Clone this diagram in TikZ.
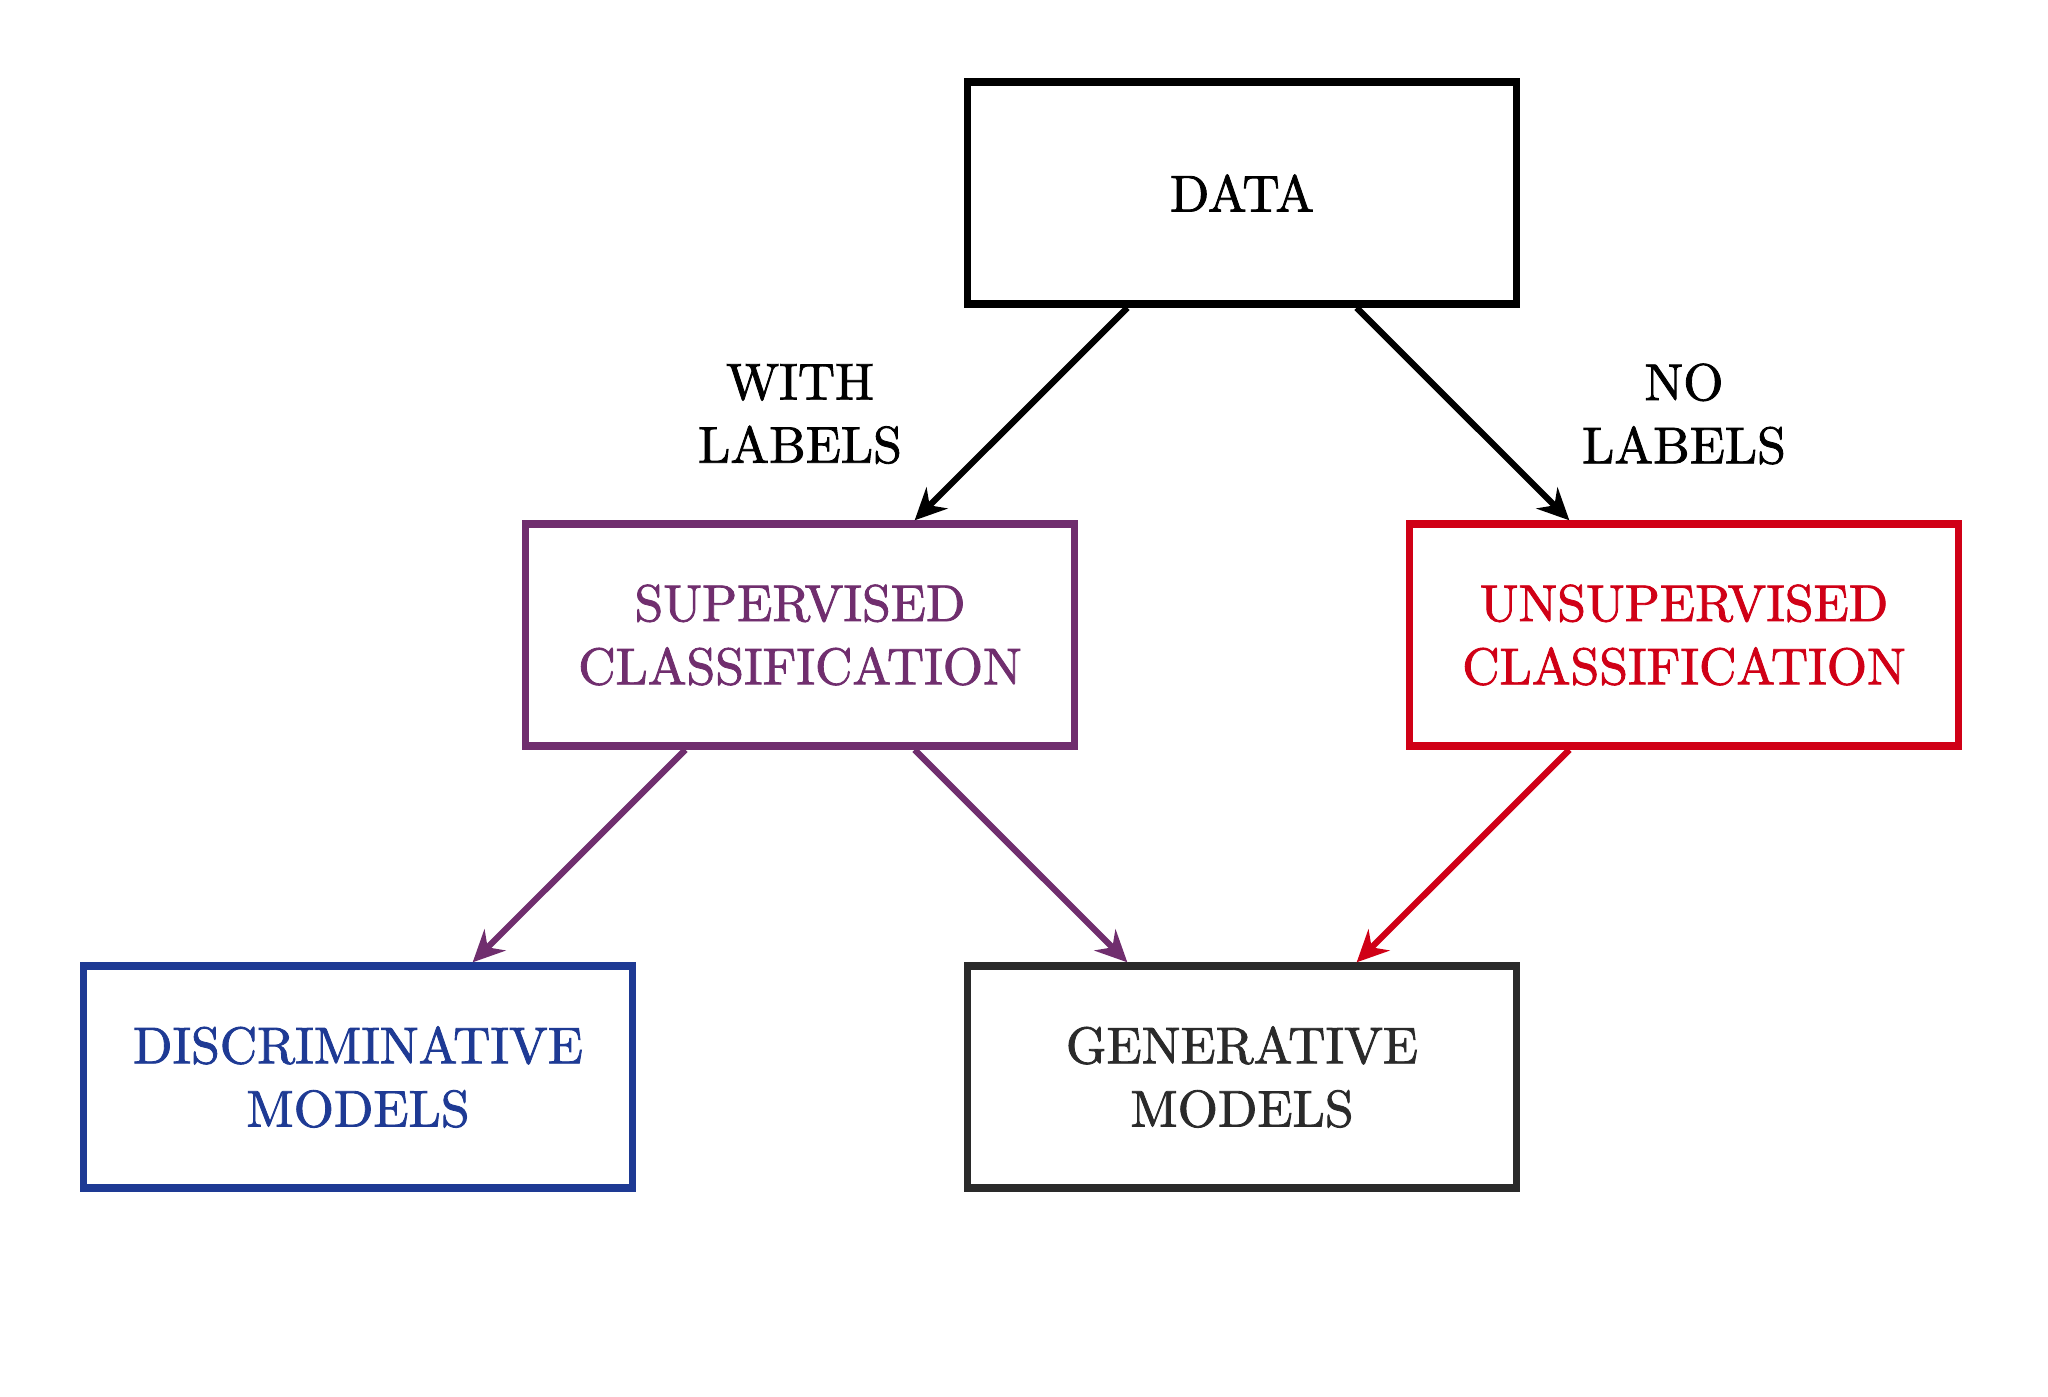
\documentclass[tikz,border=0pt]{standalone}
\usetikzlibrary{arrows.meta}
\font\lmten="[lmroman10-regular]:embolden=1.6" at 14.7pt
\newcommand{\boxfont}{\lmten\baselineskip=18pt\relax}
\definecolor{suppurple}{RGB}{112,46,110}
\definecolor{unsred}{RGB}{208,0,22}
\definecolor{discblue}{RGB}{30,58,148}
\definecolor{gengray}{RGB}{42,42,42}
\tikzset{
  box/.style={draw, line width=2.1pt, minimum width=5.49cm, minimum height=2.22cm,
    align=center, font=\boxfont, inner sep=0pt},
  conn/.style={line width=1.8pt, -{Stealth[length=9pt,width=8.5pt,inset=3pt]}},
  lbl/.style={align=center, font=\boxfont}
}
\begin{document}
\begin{tikzpicture}
\useasboundingbox (0,0) rectangle (20.48,-13.97);
\node[box] (data) at (12.42,-1.93) {DATA};
\node[box, draw=suppurple, text=suppurple] (sup) at (8.00,-6.35) {SUPERVISED\\CLASSIFICATION};
\node[box, draw=unsred, text=unsred] (uns) at (16.84,-6.35) {UNSUPERVISED\\CLASSIFICATION};
\node[box, draw=discblue, text=discblue] (disc) at (3.58,-10.77) {DISCRIMINATIVE\\MODELS};
\node[box, draw=gengray, text=gengray] (gen) at (12.42,-10.77) {GENERATIVE\\MODELS};
\node[lbl] (withl) at (8.00,-4.14) {WITH\\LABELS};
\node[lbl] (nol) at (16.84,-4.14) {NO\\LABELS};
\draw[conn] (data) -- (sup);
\draw[conn] (data) -- (uns);
\draw[conn, suppurple] (sup) -- (disc);
\draw[conn, suppurple] (sup) -- (gen);
\draw[conn, unsred] (uns) -- (gen);
\end{tikzpicture}
\end{document}
